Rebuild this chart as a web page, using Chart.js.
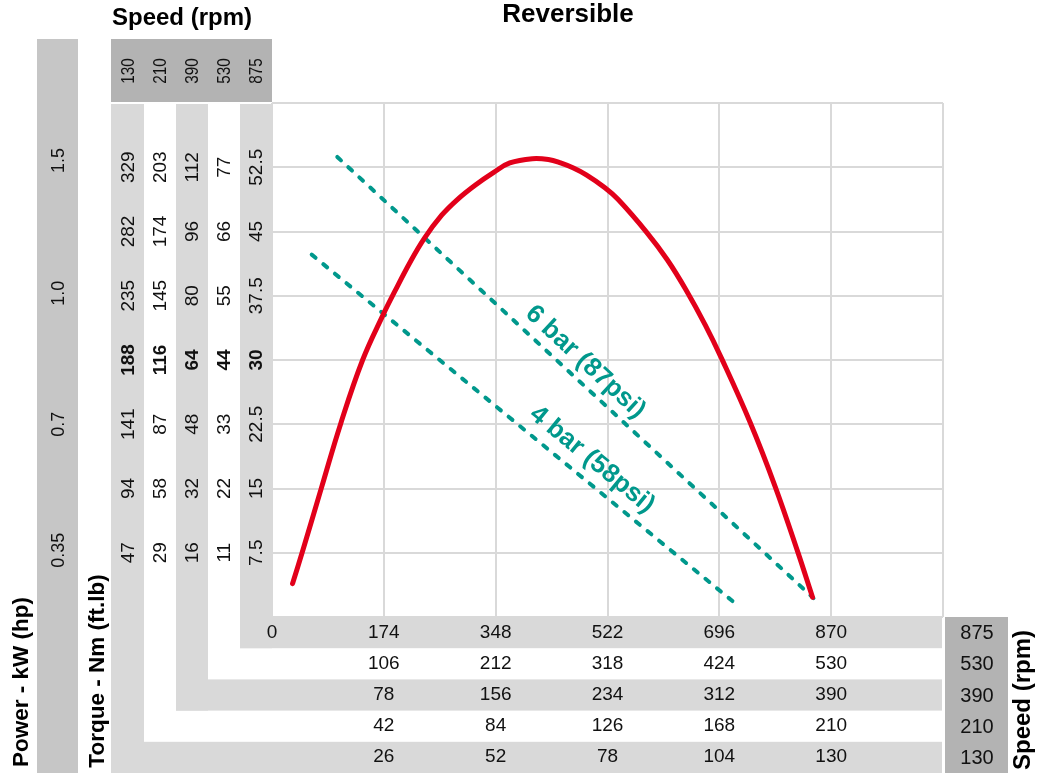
<!DOCTYPE html>
<html><head><meta charset="utf-8">
<script src="https://cdn.jsdelivr.net/npm/chart.js@4/dist/chart.umd.min.js"></script>
<style>html,body{margin:0;padding:0;background:#fff;}canvas{display:block}</style>
</head><body>
<canvas id="c" width="1039" height="773"></canvas>
<script>
// ---- data ----
const speeds = [875, 530, 390, 210, 130];
// torque tick labels per speed column, bottom to top
const torque875 = [7.5, 15, 22.5, 30, 37.5, 45, 52.5];
const torque530 = [11, 22, 33, 44, 55, 66, 77];
const torque390 = [16, 32, 48, 64, 80, 96, 112];
const torque210 = [29, 58, 87, 116, 145, 174, 203];
const torque130 = [47, 94, 141, 188, 235, 282, 329];
// speed tick labels per row
const speed875 = [0, 174, 348, 522, 696, 870];
const speed530 = [106, 212, 318, 424, 530];
const speed390 = [78, 156, 234, 312, 390];
const speed210 = [42, 84, 126, 168, 210];
const speed130 = [26, 52, 78, 104, 130];
// power column
const powerLabels = ['0.35', '0.7', '1.0', '1.5'];
const powerAtTorque875 = [7.8, 22.5, 37.8, 53.3];
// reversible curve (speed on 875 row, torque on 875 column)
const curveSpeed  = [32, 48, 77, 107, 141, 173, 191, 214, 237, 264, 288, 316, 345, 370, 405,
                     430, 449, 469, 489, 518, 539, 583, 615, 644, 674, 700, 744, 783, 818, 841];
const curveTorque = [3.9, 7.8, 15.1, 22.6, 30.0, 35.3, 38.0, 41.3, 44.2, 46.9, 48.7, 50.4, 51.9, 53.0, 53.5,
                     53.4, 53.0, 52.4, 51.6, 50.1, 48.7, 44.9, 41.7, 38.2, 34.1, 30.1, 22.7, 15.2, 7.6, 2.3];
// air pressure lines
const bar6Speed = [101.6, 842.5];
const bar6Torque = [53.7, 2.2];
const bar4Speed = [61.8, 720.6];
const bar4Torque = [42.3, 1.6];
const lineLabels = ['6 bar (87psi)', '4 bar (58psi)'];
const highlightIndex = 3;

// ---- style ----
const FONT = "'Liberation Sans', Arial, Helvetica, sans-serif";
const GRID = '#d9d9d9';
const BAND = '#d9d9d9';
const DARK = '#b3b3b3';
const POWER = '#c6c6c6';
const RED = '#e2001a';
const TEAL = '#00988c';
const colW = 32;
const rowH = 31.2;

const rows = [speed875, speed530, speed390, speed210, speed130];
const cols = [torque875, torque530, torque390, torque210, torque130];

const scales = {};
rows.forEach((arr, i) => {
  const step = arr[1] - arr[0];
  const max = step * 6;
  const id = i === 0 ? 'x' : 'x' + i;
  scales[id] = {
    type: 'linear', position: 'bottom', weight: i, min: 0, max: max,
    afterBuildTicks: s => { s.ticks = (i === 0 ? arr.concat([max]) : arr).map(v => ({value: v})); },
    afterFit: s => { s.height = rowH; },
    grid: i === 0 ? {color: GRID, lineWidth: 2, drawTicks: false} : {display: false, drawTicks: false},
    border: {display: false},
    ticks: {stepSize: step, padding: 4, color: '#111', autoSkip: false, maxRotation: 0, minRotation: 0,
      font: {family: FONT, size: 19},
      callback: v => (v === max ? '' : String(v))}
  };
});
cols.forEach((arr, i) => {
  const step = arr[1] - arr[0];
  const max = step * 8;
  const id = i === 0 ? 'y' : 'y' + i;
  scales[id] = {
    type: 'linear', position: 'left', weight: i, min: 0, max: max,
    afterBuildTicks: s => { s.ticks = (i === 0 ? [0].concat(arr, [max]) : arr).map(v => ({value: v})); },
    afterFit: s => { s.width = colW; },
    grid: i === 0 ? {color: GRID, lineWidth: 2, drawTicks: false} : {display: false, drawTicks: false},
    border: {display: false},
    ticks: {display: false, stepSize: step}
  };
});

function rotText(ctx, txt, x, y, font, color, squeeze) {
  ctx.save();
  ctx.translate(x, y);
  ctx.rotate(-Math.PI / 2);
  if (squeeze) ctx.scale(squeeze, 1);
  ctx.font = font;
  ctx.fillStyle = color || '#111';
  ctx.textAlign = 'center';
  ctx.textBaseline = 'middle';
  ctx.fillText(txt, 0, 0);
  ctx.restore();
}

const tablePlugin = {
  id: 'table',
  beforeDraw(chart) {
    const ctx = chart.ctx, ca = chart.chartArea;
    const W = chart.width, H = chart.height;
    ctx.save();
    ctx.fillStyle = '#fff';
    ctx.fillRect(0, 0, W, H);
    // power column
    ctx.fillStyle = POWER;
    ctx.fillRect(37, 39, 41, H - 39);
    // header box
    const yOuter = chart.scales['y4'];
    ctx.fillStyle = DARK;
    ctx.fillRect(yOuter.left - 1, 39, ca.left - yOuter.left + 1, 63);
    // right box
    ctx.fillRect(ca.right + 2, ca.bottom, 63, H - ca.bottom);
    // L-shaped bands
    for (let i = 0; i < 5; i++) {
      if (i % 2 === 1) continue;
      const ys = chart.scales[i === 0 ? 'y' : 'y' + i];
      const xs = chart.scales[i === 0 ? 'x' : 'x' + i];
      const bottom = i === 4 ? H : xs.bottom;
      const l = ys.left - (i === 4 ? 1 : 0);
      ctx.fillStyle = BAND;
      ctx.fillRect(l, ca.top + 1, ys.right - l, bottom - ca.top - 1);
      ctx.fillRect(l, xs.top, ca.right - 1 - l, bottom - xs.top);
    }
    ctx.restore();
  },
  afterDraw(chart) {
    const ctx = chart.ctx, ca = chart.chartArea;
    ctx.save();
    // torque column labels
    cols.forEach((arr, i) => {
      const s = chart.scales[i === 0 ? 'y' : 'y' + i];
      const cx = (s.left + s.right) / 2 + 1;
      arr.forEach((v, k) => {
        const f = (k === highlightIndex ? 'bold ' : '') + '19px ' + FONT;
        rotText(ctx, String(v), cx, s.getPixelForValue(v), f);
      });
      // header speed labels
      rotText(ctx, String(speeds[i]), cx, 71, '18px ' + FONT, '#111', 0.85);
    });
    // right speed labels
    rows.forEach((arr, i) => {
      const s = chart.scales[i === 0 ? 'x' : 'x' + i];
      ctx.font = '20px ' + FONT;
      ctx.fillStyle = '#111';
      ctx.textAlign = 'center';
      ctx.textBaseline = 'middle';
      ctx.fillText(String(speeds[i]), ca.right + 34, (s.top + s.bottom) / 2 + 1);
    });
    // power labels
    const y = chart.scales.y;
    powerLabels.forEach((p, k) => rotText(ctx, p, 59, y.getPixelForValue(powerAtTorque875[k]), '18px ' + FONT));
    // titles
    ctx.fillStyle = '#000';
    ctx.textAlign = 'center';
    ctx.textBaseline = 'middle';
    ctx.font = 'bold 26px ' + FONT;
    ctx.fillText('Reversible', 568, 15);
    ctx.font = 'bold 24px ' + FONT;
    ctx.fillText('Speed (rpm)', 182, 18);
    rotText(ctx, 'Speed (rpm)', 1023, 700, 'bold 24px ' + FONT, '#000');
    rotText(ctx, 'Power - kW (hp)', 22, 682, 'bold 22.5px ' + FONT, '#000');
    rotText(ctx, 'Torque - Nm (ft.lb)', 98, 671, 'bold 22.5px ' + FONT, '#000');
    // pressure line labels
    const x = chart.scales.x;
    const specs = [[bar6Speed, bar6Torque, 0.495, 18], [bar4Speed, bar4Torque, 0.632, 20]];
    specs.forEach((sp, k) => {
      const x0 = x.getPixelForValue(sp[0][0]), y0 = y.getPixelForValue(sp[1][0]);
      const x1 = x.getPixelForValue(sp[0][1]), y1 = y.getPixelForValue(sp[1][1]);
      const dx = x1 - x0, dy = y1 - y0, len = Math.hypot(dx, dy);
      const ux = dx / len, uy = dy / len;
      const px = x0 + dx * sp[2] + uy * sp[3];
      const py = y0 + dy * sp[2] - ux * sp[3];
      ctx.save();
      ctx.translate(px, py);
      ctx.rotate(Math.atan2(dy, dx));
      ctx.font = 'bold 26px ' + FONT;
      ctx.fillStyle = TEAL;
      ctx.textAlign = 'center';
      ctx.textBaseline = 'middle';
      ctx.fillText(lineLabels[k], 0, 0);
      ctx.restore();
    });
    ctx.restore();
  }
};

const pts = (xs, ys) => xs.map((v, i) => ({x: v, y: ys[i]}));

new Chart(document.getElementById('c'), {
  type: 'line',
  data: {
    datasets: [
      {label: 'Reversible', data: pts(curveSpeed, curveTorque), borderColor: RED, borderWidth: 5,
        pointRadius: 0, tension: 0.4, borderCapStyle: 'round', borderJoinStyle: 'round', xAxisID: 'x', yAxisID: 'y'},
      {label: lineLabels[0], data: pts(bar6Speed, bar6Torque), borderColor: TEAL, borderWidth: 4,
        borderDash: [5, 10], borderCapStyle: 'round', pointRadius: 0, xAxisID: 'x', yAxisID: 'y'},
      {label: lineLabels[1], data: pts(bar4Speed, bar4Torque), borderColor: TEAL, borderWidth: 4,
        borderDash: [5, 10], borderCapStyle: 'round', pointRadius: 0, xAxisID: 'x', yAxisID: 'y'}
    ]
  },
  options: {
    responsive: false,
    animation: false,
    devicePixelRatio: 1,
    layout: {padding: {left: 112, right: 96, top: 103, bottom: 0}},
    plugins: {legend: {display: false}, tooltip: {enabled: false}, title: {display: false}},
    scales: scales
  },
  plugins: [tablePlugin]
});
</script>
</body></html>
